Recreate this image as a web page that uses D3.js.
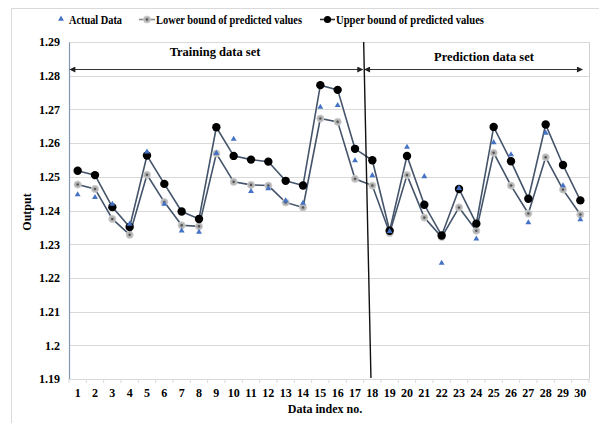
<!DOCTYPE html>
<html>
<head>
<meta charset="utf-8">
<script src="https://cdn.jsdelivr.net/npm/d3@7/dist/d3.min.js"></script>
<style>
  html, body { margin: 0; padding: 0; background: #fff; }
  svg { display: block; font-family: "Liberation Serif", "Times New Roman", serif; }
  text { font-weight: bold; fill: #000; }
</style>
</head>
<body>
<svg id="chart" width="599" height="423"></svg>
<script>
// Data index 1..30
const indices = d3.range(1, 31);

// Measured output
const actual = [1.2447, 1.2439, 1.2419, 1.2360, 1.2574, 1.2419, 1.2340, 1.2336, 1.2570, 1.2612,
                1.2457, 1.2465, 1.2429, 1.2422, 1.2707, 1.2712, 1.2548, 1.2504, 1.2338, 1.2588,
                1.2501, 1.2244, 1.2466, 1.2316, 1.2602, 1.2566, 1.2364, 1.2630, 1.2474, 1.2373];

// Lower bound of predicted values
const lower = [1.2477, 1.2464, 1.2375, 1.2328, 1.2506, 1.2425, 1.2356, 1.2353, 1.2569, 1.2485,
               1.2476, 1.2474, 1.2424, 1.2409, 1.2673, 1.2663, 1.2494, 1.2474, 1.2333, 1.2505,
               1.2379, 1.2321, 1.2409, 1.2340, 1.2571, 1.2474, 1.2391, 1.2558, 1.2462, 1.2388];

// Upper bound of predicted values
const upper = [1.2518, 1.2505, 1.2410, 1.2351, 1.2563, 1.2479, 1.2397, 1.2375, 1.2647, 1.2562,
               1.2551, 1.2545, 1.2488, 1.2474, 1.2772, 1.2758, 1.2583, 1.2549, 1.2340, 1.2562,
               1.2417, 1.2326, 1.2464, 1.2361, 1.2648, 1.2546, 1.2435, 1.2655, 1.2535, 1.2430];

const yTicks = [1.19, 1.2, 1.21, 1.22, 1.23, 1.24, 1.25, 1.26, 1.27, 1.28, 1.29];
const splitIndex = 18;   // first index of the prediction set
const setLabels = ["Training data set", "Prediction data set"];
const legendLabels = ["Actual Data", "Lower bound of predicted values", "Upper bound of predicted values"];

const svg = d3.select("#chart");
const m = { left: 69, right: 589, top: 42, bottom: 379 };

const x = d3.scaleBand().domain(indices).range([m.left, m.right]).paddingInner(0).paddingOuter(0);
const cx = d => x(d) + x.bandwidth() / 2;
const y = d3.scaleLinear().domain([1.19, 1.29]).range([m.bottom, m.top]);

const lineColor = "#44546a";

// outer chart frame
svg.append("rect").attr("x", 11.5).attr("y", 8.5).attr("width", 600).attr("height", 430)
  .attr("fill", "none").attr("stroke", "#d9d9d9");

// gridlines
svg.append("g").selectAll("line").data(yTicks.slice(1)).join("line")
  .attr("x1", m.left).attr("x2", m.right)
  .attr("y1", d => Math.round(y(d)) + 0.5).attr("y2", d => Math.round(y(d)) + 0.5)
  .attr("stroke", "#d9d9d9").attr("stroke-width", 1);

// plot border right
svg.append("line").attr("x1", m.right + 0.5).attr("x2", m.right + 0.5)
  .attr("y1", m.top).attr("y2", m.bottom).attr("stroke", "#d0d0d0");

// y axis
const yAxis = svg.append("g").attr("transform", `translate(${m.left},0)`)
  .call(d3.axisLeft(y).tickValues(yTicks).tickSize(0).tickPadding(9)
    .tickFormat(d => String(+d.toFixed(2))));
yAxis.select(".domain").attr("stroke", "#8497b0").attr("stroke-width", 1.2);
yAxis.selectAll("text").attr("font-size", 12).attr("font-family", "Liberation Serif")
  .attr("font-weight", "bold");

// x axis
const xAxis = svg.append("g").attr("transform", `translate(0,${m.bottom})`)
  .call(d3.axisBottom(x).tickSize(0).tickPadding(9));
xAxis.select(".domain").attr("stroke", "#d9d9d9");
xAxis.selectAll("text").attr("font-size", 12).attr("font-family", "Liberation Serif")
  .attr("font-weight", "bold");
// tick marks at band boundaries
svg.append("g").selectAll("line").data(d3.range(0, indices.length + 1)).join("line")
  .attr("x1", i => m.left + i * x.step()).attr("x2", i => m.left + i * x.step())
  .attr("y1", m.bottom).attr("y2", m.bottom + 4)
  .attr("stroke", "#d9d9d9");

// axis titles
svg.append("text").attr("x", 325).attr("y", 413).attr("text-anchor", "middle")
  .attr("font-size", 12).text("Data index no.");
svg.append("text").attr("transform", "translate(31,212) rotate(-90)").attr("text-anchor", "middle")
  .attr("font-size", 12).text("Output");

// arrow markers
const defs = svg.append("defs");
defs.append("marker").attr("id", "ah").attr("viewBox", "0 0 10 10").attr("refX", 9).attr("refY", 5)
  .attr("markerWidth", 7).attr("markerHeight", 6).attr("orient", "auto-start-reverse")
  .attr("markerUnits", "userSpaceOnUse")
  .append("path").attr("d", "M0,0 L10,5 L0,10 z").attr("fill", "#222");

const arrowY = 69.5;
const splitX = x(splitIndex);
svg.append("line").attr("x1", m.left + 1).attr("x2", splitX - 1)
  .attr("y1", arrowY).attr("y2", arrowY).attr("stroke", "#333").attr("stroke-width", 1)
  .attr("marker-start", "url(#ah)").attr("marker-end", "url(#ah)");
svg.append("line").attr("x1", splitX + 1).attr("x2", cx(30) + 2)
  .attr("y1", arrowY).attr("y2", arrowY).attr("stroke", "#333").attr("stroke-width", 1)
  .attr("marker-start", "url(#ah)").attr("marker-end", "url(#ah)");

svg.append("text").attr("x", 215).attr("y", 56).attr("text-anchor", "middle")
  .attr("font-size", 12.5).text(setLabels[0]);
svg.append("text").attr("x", 484).attr("y", 61).attr("text-anchor", "middle")
  .attr("font-size", 12.5).text(setLabels[1]);

// series lines
const line = d3.line().x((d, i) => cx(indices[i])).y(d => y(d));
svg.append("path").datum(lower).attr("d", line).attr("fill", "none")
  .attr("stroke", lineColor).attr("stroke-width", 1.6);
svg.append("path").datum(upper).attr("d", line).attr("fill", "none")
  .attr("stroke", lineColor).attr("stroke-width", 1.6);

// separator between training and prediction sets
svg.append("line").attr("x1", splitX).attr("y1", m.top)
  .attr("x2", splitX + x.bandwidth() * 0.42).attr("y2", m.bottom - 1)
  .attr("stroke", "#111").attr("stroke-width", 1.4);

// markers
function lowerMarker(g, px, py) {
  g.append("circle").attr("cx", px).attr("cy", py).attr("r", 3.6)
    .attr("fill", "#b5b5b5").attr("stroke", "#d0d0d0").attr("stroke-width", 0.8);
  g.append("circle").attr("cx", px).attr("cy", py).attr("r", 1.3).attr("fill", "#555");
}
const gl = svg.append("g");
lower.forEach((v, i) => lowerMarker(gl, cx(indices[i]), y(v)));

svg.append("g").selectAll("circle").data(upper).join("circle")
  .attr("cx", (d, i) => cx(indices[i])).attr("cy", d => y(d)).attr("r", 4.2).attr("fill", "#000");

const tri = d3.symbol().type(d3.symbolTriangle).size(15);
svg.append("g").selectAll("path").data(actual).join("path")
  .attr("d", tri).attr("fill", "#4472c4")
  .attr("transform", (d, i) => `translate(${cx(indices[i])},${y(d)})`);

// legend
const lg = svg.append("g");
lg.append("path").attr("d", tri).attr("fill", "#4472c4").attr("transform", "translate(61,19)");
lg.append("text").attr("x", 69).attr("y", 24).attr("font-size", 12.5)
  .attr("textLength", 53).attr("lengthAdjust", "spacingAndGlyphs").text(legendLabels[0]);
lg.append("line").attr("x1", 139).attr("x2", 155).attr("y1", 19.5).attr("y2", 19.5)
  .attr("stroke", "#8a8a8a").attr("stroke-width", 1.6);
lowerMarker(lg, 147, 19.5);
lg.append("text").attr("x", 156).attr("y", 24).attr("font-size", 12.5)
  .attr("textLength", 146).attr("lengthAdjust", "spacingAndGlyphs").text(legendLabels[1]);
lg.append("line").attr("x1", 320).attr("x2", 335).attr("y1", 19.5).attr("y2", 19.5)
  .attr("stroke", "#333").attr("stroke-width", 1.6);
lg.append("circle").attr("cx", 327.5).attr("cy", 19.5).attr("r", 3.6).attr("fill", "#000");
lg.append("text").attr("x", 336).attr("y", 24).attr("font-size", 12.5)
  .attr("textLength", 148).attr("lengthAdjust", "spacingAndGlyphs").text(legendLabels[2]);
</script>
</body>
</html>
